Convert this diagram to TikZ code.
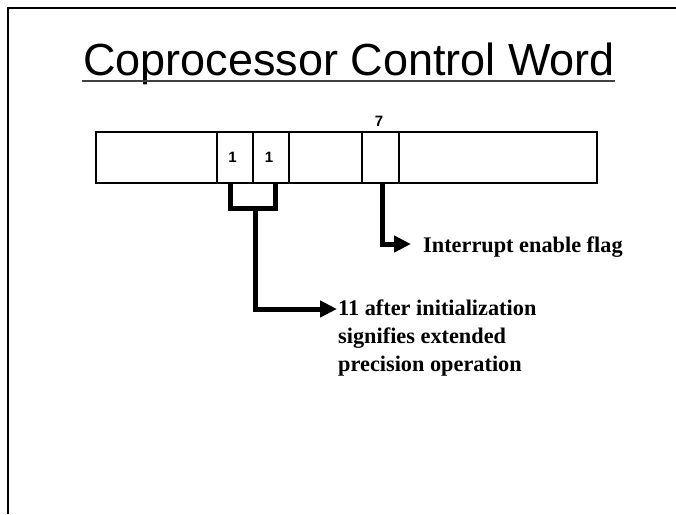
\documentclass[tikz,border=0pt]{standalone}
\usepackage{fontspec}
\setmainfont{Liberation Serif}
\setsansfont{Liberation Sans}
\usetikzlibrary{arrows.meta}
\begin{document}
\begin{tikzpicture}[x=1pt,y=-1pt,
  cell/.style={draw,line width=1.1pt,minimum height=51pt,inner sep=0pt,outer sep=0pt,
    font=\sffamily\bfseries\fontsize{15}{17}\selectfont},
  conn/.style={line width=5pt,line join=miter},
  tip/.style={-{Triangle[length=17pt,width=16pt]}},
  lbl/.style={font=\bfseries\fontsize{22.3}{28}\selectfont,inner sep=0pt,align=left}]
\useasboundingbox (0,0) rectangle (676,514);
% page frame
\draw[line width=2pt] (8,514) -- (8,8) -- (676,8);
% title
\node[font=\sffamily\fontsize{45}{50}\selectfont,inner sep=0pt,anchor=base] (title) at (349,75) {Coprocessor Control Word};
\draw[line width=2pt,black!75] ([yshift=-6pt,xshift=-1pt]title.base west) -- ([yshift=-6pt]title.base east);
% register cells
\node[cell,minimum width=121pt,anchor=north west] (c1) at (96,132) {};
\node[cell,minimum width=36pt,anchor=north west] (c2) at (c1.north east) {\hspace*{-5pt}1};
\node[cell,minimum width=36pt,anchor=north west] (c3) at (c2.north east) {\hspace*{-4pt}1};
\node[cell,minimum width=73pt,anchor=north west] (c4) at (c3.north east) {};
\node[cell,minimum width=37pt,anchor=north west] (c5) at (c4.north east) {};
\node[cell,minimum width=198pt,anchor=north west] (c6) at (c5.north east) {};
\draw[line width=1.8pt] (c1.north west) rectangle (c6.south east);
\node[font=\sffamily\bfseries\fontsize{15}{17}\selectfont,inner sep=0pt] (seven) at (379,121) {7};
% labels
\node[lbl,anchor=base west] (flag) at (423,252) {Interrupt enable flag};
\node[lbl,anchor=north west] (ext) at (338,300) {11 after initialization\\signifies extended\\precision operation};
% connectors
\coordinate (stem) at (255,208.5);
\coordinate (tipA) at (411,244);
\coordinate (tipB) at (337,309);
\draw[conn] ([xshift=-5pt]c2.south) -- ([xshift=-5pt]c2.south |- stem) -| ([xshift=4pt]c3.south);
\draw[conn,tip] (stem) |- (tipB);
\draw[conn,tip] ([xshift=1.5pt]c5.south) |- (tipA);
\end{tikzpicture}
\end{document}
